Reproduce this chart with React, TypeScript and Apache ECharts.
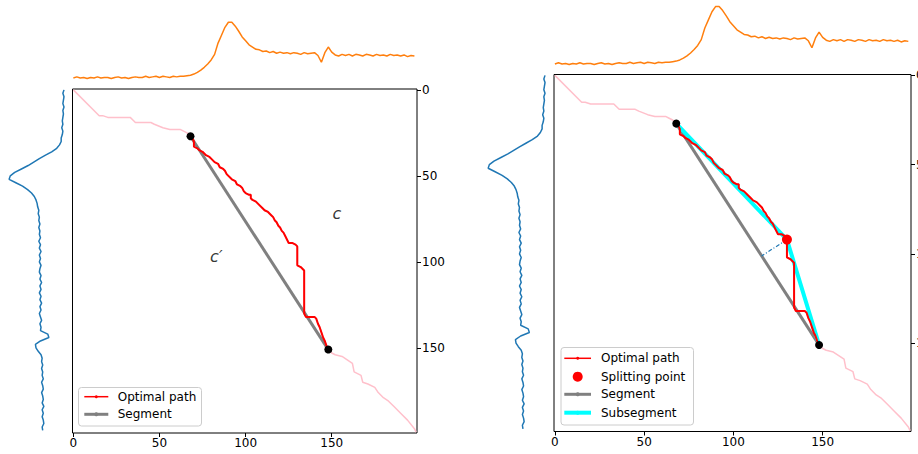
import React, { useEffect, useRef } from "react";
import * as echarts from "echarts";

// ---- data ----
// top signal (orange), sampled at indices 0,2,4,...,198
const orangeSignal = [
  0.00, 0.02, 0.00, 0.01, -0.01, 0.01, 0.00, 0.02, 0.00, 0.01,
  0.01, -0.01, 0.01, 0.02, 0.00, 0.01, -0.01, 0.01, 0.02, 0.01,
  0.01, 0.03, 0.01, 0.02, 0.03, 0.01, 0.03, 0.02, 0.01, 0.03,
  0.02, 0.03, 0.03, 0.04, 0.05, 0.07, 0.10, 0.14, 0.19, 0.25,
  0.32, 0.42, 0.62, 0.76, 0.90, 0.99, 0.99, 0.92, 0.83, 0.73,
  0.66, 0.59, 0.55, 0.51, 0.50, 0.47, 0.48, 0.45, 0.47, 0.44,
  0.46, 0.44, 0.45, 0.43, 0.45, 0.44, 0.42, 0.45, 0.43, 0.44,
  0.45, 0.40, 0.28, 0.45, 0.55, 0.46, 0.41, 0.39, 0.42, 0.40,
  0.42, 0.39, 0.42, 0.41, 0.39, 0.42, 0.41, 0.39, 0.42, 0.40,
  0.41, 0.39, 0.42, 0.40, 0.41, 0.39, 0.41, 0.38, 0.40, 0.39,
];
// side signal (blue), sampled at indices 0,2,4,...,198
const blueSignal = [
  0.00, 0.02, 0.00, 0.01, 0.02, 0.00, 0.02, 0.01, 0.02, 0.03,
  0.02, 0.04, 0.02, 0.03, 0.05, 0.05, 0.08, 0.13, 0.22, 0.33,
  0.44, 0.54, 0.64, 0.76, 0.88, 0.96, 0.98, 0.86, 0.74, 0.65,
  0.58, 0.53, 0.50, 0.48, 0.47, 0.45, 0.46, 0.44, 0.45, 0.43,
  0.45, 0.43, 0.44, 0.42, 0.45, 0.42, 0.44, 0.41, 0.44, 0.42,
  0.44, 0.41, 0.43, 0.44, 0.41, 0.43, 0.40, 0.43, 0.41, 0.44,
  0.41, 0.43, 0.40, 0.43, 0.41, 0.44, 0.42, 0.40, 0.43, 0.41,
  0.42, 0.29, 0.27, 0.42, 0.51, 0.50, 0.46, 0.41, 0.39, 0.40,
  0.38, 0.40, 0.38, 0.39, 0.37, 0.40, 0.38, 0.37, 0.40, 0.38,
  0.37, 0.39, 0.36, 0.39, 0.37, 0.39, 0.37, 0.36, 0.39, 0.38,
];
const SAMPLE_STEP = 2;

// warping path pieces [x index, y index]
const pathHead = [
  [0, 0], [15, 15], [17, 15], [20, 16], [33, 16], [35, 18], [36, 19], [45, 19],
  [47, 20], [52, 22], [56, 23], [62, 23], [64, 24], [66, 25],
];
const optimalPath = [
  [68, 27], [69, 28], [70, 30], [70, 33], [72, 34], [73, 35], [75, 36], [76, 37],
  [77, 38], [79, 39], [80, 40], [82, 42], [84, 43], [85, 45], [87, 46], [88, 47],
  [89, 49], [90, 50], [92, 52], [94, 53], [95, 55], [97, 56], [98, 57], [99, 59],
  [100, 60], [102, 61], [103, 61], [103, 63], [104, 64], [106, 65], [108, 67],
  [110, 69], [111, 70], [113, 71], [114, 72], [115, 73], [116, 74], [117, 76],
  [118, 77], [119, 79], [120, 80], [121, 82], [122, 83], [123, 85], [124, 87],
  [125, 89], [127, 89], [129, 90], [130, 91], [130, 102], [132, 103], [134, 105],
  [134, 130], [135, 132], [140, 132], [141, 133], [142, 136], [143, 138],
  [144, 141], [145, 144], [146, 146], [147, 149], [148, 151],
];
const pathTail = [
  [150, 153], [152, 154], [156, 155], [159, 157], [162, 159], [163, 164],
  [165, 165], [167, 166], [168, 170], [171, 171], [175, 173], [177, 176],
  [180, 179], [183, 181], [186, 184], [190, 188], [194, 192], [198, 197], [199, 199],
];
const segmentStart = [68, 27];
const segmentEnd = [148, 151];
const splitPoint = [130, 92];
const tickValues = [0, 50, 100, 150];
const curveLabels = [
  { text: "c", at: [153, 72] },
  { text: "c\u2032", at: [83, 97] },
];

const FONT = "DejaVu Sans";

export default function App() {
  const ref = useRef<HTMLDivElement>(null);
  useEffect(() => {
    if (!ref.current) return;
    const chart = echarts.init(ref.current, undefined, { renderer: "svg" });

    const fullPath = [...pathHead, ...optimalPath, ...pathTail];
    const orangeData = orangeSignal.map((v, k) => [k * SAMPLE_STEP, v]);
    const blueData = blueSignal.map((v, k) => [v, k * SAMPLE_STEP]);
    // foot of perpendicular from split point onto the segment
    const dx = segmentEnd[0] - segmentStart[0];
    const dy = segmentEnd[1] - segmentStart[1];
    const t = ((splitPoint[0] - segmentStart[0]) * dx + (splitPoint[1] - segmentStart[1]) * dy) / (dx * dx + dy * dy);
    const foot = [segmentStart[0] + t * dx, segmentStart[1] + t * dy];

    const grids = [
      { left: 72.5, top: 89, width: 344.5, height: 344 }, // main 1
      { left: 72.5, top: 0, width: 344.5, height: 90 }, // top 1
      { left: 0, top: 89, width: 72.5, height: 344 }, // side 1
      { left: 554, top: 74.5, width: 357, height: 357 }, // main 2
      { left: 554, top: 0, width: 357, height: 72 }, // top 2
      { left: 480, top: 74.5, width: 74, height: 357 }, // side 2
    ].map((g, i) => ({
      ...g,
      show: i === 0 || i === 3,
      borderColor: "#000",
      borderWidth: 1,
      backgroundColor: "transparent",
      containLabel: false,
      outerBoundsMode: "none",
    }));

    const tickStyle = { show: true, length: 4, customValues: tickValues, lineStyle: { color: "#000", width: 1 } };
    const mainX = (gridIndex: number) => ({
      gridIndex,
      type: "value",
      position: "bottom",
      min: -0.5,
      max: 199.5,
      splitLine: { show: false },
      axisLine: { show: false, onZero: false },
      axisTick: tickStyle,
      axisLabel: { customValues: tickValues, color: "#000", fontSize: 12, fontFamily: FONT, margin: 4 },
    });
    const mainY = (gridIndex: number) => ({
      gridIndex,
      type: "value",
      inverse: true,
      position: "right",
      min: -0.5,
      max: 199.5,
      splitLine: { show: false },
      axisLine: { show: false, onZero: false },
      axisTick: tickStyle,
      axisLabel: { customValues: tickValues, color: "#000", fontSize: 12, fontFamily: FONT, margin: 5 },
    });
    const hidden = (gridIndex: number, min: number, max: number, inverse = false) => ({
      gridIndex, type: "value", min, max, inverse, show: false, splitLine: { show: false },
      axisLine: { show: false, onZero: false },
    });

    const xAxis = [
      mainX(0),
      hidden(1, -0.5, 199.5),
      hidden(2, -0.152, 1.143, true),
      mainX(3),
      hidden(4, -0.5, 199.5),
      hidden(5, -0.155, 1.121, true),
    ];
    const yAxis = [
      mainY(0),
      hidden(1, -0.213, 1.385),
      hidden(2, -0.5, 199.5, true),
      mainY(3),
      hidden(4, -0.138, 1.103),
      hidden(5, -0.5, 199.5, true),
    ];

    const line = (idx: number, data: any[], color: string, width: number, z: number, extra: any = {}) => ({
      type: "line",
      xAxisIndex: idx,
      yAxisIndex: idx,
      data,
      silent: true,
      clip: false,
      showSymbol: false,
      symbol: "none",
      lineStyle: { color, width },
      itemStyle: { color },
      z,
      ...extra,
    });
    const dots = (idx: number, data: any[], color: string, size: number, z: number) => ({
      type: "scatter",
      xAxisIndex: idx,
      yAxisIndex: idx,
      data,
      silent: true,
      symbolSize: size,
      itemStyle: { color, opacity: 1 },
      z,
    });

    const series: any[] = [
      // left panel
      line(0, fullPath, "#ffc0cb", 1.5, 1),
      line(0, [segmentStart, segmentEnd], "#808080", 3, 2),
      line(0, optimalPath, "#ff0000", 2, 4),
      dots(0, [segmentStart, segmentEnd], "#000000", 8, 6),
      {
        type: "scatter",
        xAxisIndex: 0,
        yAxisIndex: 0,
        silent: true,
        symbolSize: 1,
        itemStyle: { color: "rgba(0,0,0,0)" },
        data: curveLabels.map((c) => ({ value: c.at, name: c.text })),
        label: {
          show: true,
          position: "inside",
          formatter: (p: any) => p.name,
          fontFamily: FONT,
          fontStyle: "italic",
          fontSize: 16,
          color: "#000",
        },
        z: 7,
      },
      line(1, orangeData, "#ff7f0e", 1.5, 3),
      line(2, blueData, "#1f77b4", 1.5, 3),
      // right panel
      line(3, fullPath, "#ffc0cb", 1.5, 1),
      line(3, [segmentStart, segmentEnd], "#808080", 3, 2),
      line(3, [segmentStart, splitPoint, segmentEnd], "#00ffff", 4, 3),
      line(3, optimalPath, "#ff0000", 2, 4),
      line(3, [splitPoint, foot], "#1f77b4", 1.2, 5, { lineStyle: { color: "#1f77b4", width: 1.2, type: [4, 2, 1, 2] } }),
      dots(3, [segmentStart, segmentEnd], "#000000", 8, 6),
      dots(3, [splitPoint], "#ff0000", 10, 7),
      line(4, orangeData, "#ff7f0e", 1.5, 3),
      line(5, blueData, "#1f77b4", 1.5, 3),
    ];

    const legendText = (x: number, y: number, text: string) => ({
      type: "text",
      x,
      y,
      style: { text, fill: "#000", font: `12px '${FONT}'`, verticalAlign: "middle", align: "left" },
      z: 100,
    });
    const legendLine = (x1: number, x2: number, y: number, stroke: string, lineWidth: number) => ({
      type: "line",
      shape: { x1, y1: y, x2, y2: y },
      style: { stroke, lineWidth },
      z: 100,
    });
    const legendDot = (cx: number, cy: number, r: number, fill: string) => ({
      type: "circle",
      shape: { cx, cy, r },
      style: { fill },
      z: 101,
    });
    const legendBox = (x: number, y: number, width: number, height: number) => ({
      type: "rect",
      shape: { x, y, width, height, r: 3 },
      style: { fill: "rgba(255,255,255,0.8)", stroke: "#cccccc", lineWidth: 1 },
      z: 99,
    });

    const graphic = [
      legendBox(78.5, 387.5, 123, 38.5),
      legendLine(84.3, 108.3, 396.7, "#ff0000", 1.5),
      legendDot(96.3, 396.7, 1.5, "#ff0000"),
      legendText(117.7, 396.7, "Optimal path"),
      legendLine(84.3, 108.3, 414.3, "#808080", 3),
      legendDot(96.3, 414.3, 2, "#808080"),
      legendText(117.7, 414.3, "Segment"),

      legendBox(561, 347.5, 132.5, 77.5),
      legendLine(564.3, 591, 358.3, "#ff0000", 1.5),
      legendDot(577.7, 358.3, 1.5, "#ff0000"),
      legendText(601, 358.3, "Optimal path"),
      legendDot(577.7, 376.7, 5, "#ff0000"),
      legendText(601, 376.7, "Splitting point"),
      legendLine(564.3, 591, 394.3, "#808080", 3),
      legendDot(577.7, 394.3, 2, "#808080"),
      legendText(601, 394.3, "Segment"),
      legendLine(564.3, 591, 412.7, "#00ffff", 4),
      legendDot(577.7, 412.7, 2, "#00ffff"),
      legendText(601, 412.7, "Subsegment"),
    ];

    chart.setOption({
      animation: false,
      backgroundColor: "#ffffff",
      grid: grids,
      xAxis,
      yAxis,
      series,
      graphic,
    });
    return () => chart.dispose();
  }, []);

  return (
    <div
      ref={ref}
      style={{ position: "absolute", left: 0, top: 0, width: 918, height: 454 }}
    />
  );
}
